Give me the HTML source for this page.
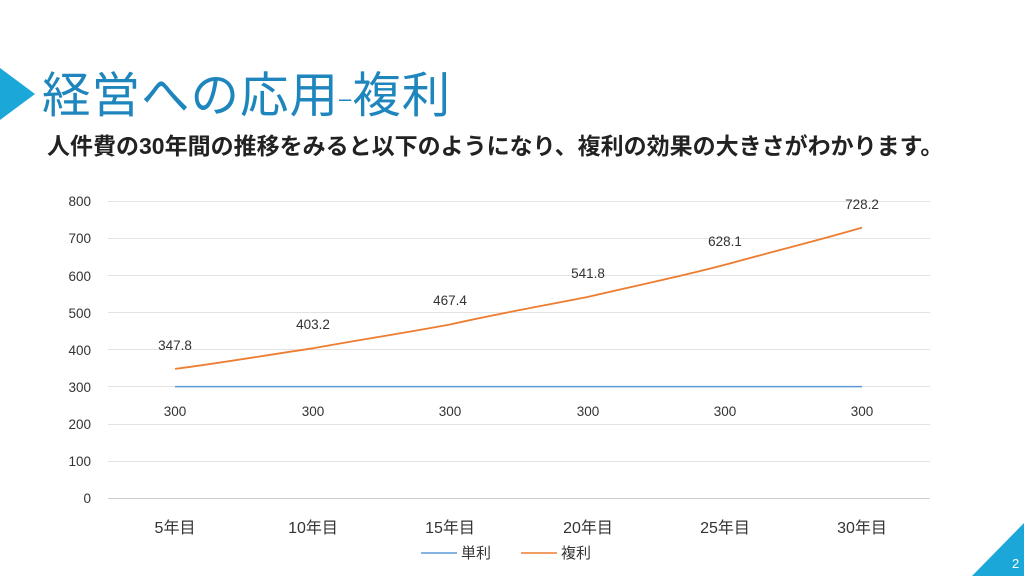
<!DOCTYPE html>
<html><head><meta charset="utf-8"><style>
body{margin:0;width:1024px;height:576px;overflow:hidden;background:#fff;font-family:"Liberation Sans","Noto Sans CJK JP",sans-serif;position:relative}
.t{position:absolute;left:42px;top:56px;font-size:48.5px;color:#1e86bd;white-space:nowrap;letter-spacing:1px}
.s{position:absolute;left:47px;top:127px;font-size:23px;font-weight:bold;color:#222;white-space:nowrap}
</style></head><body>
<svg width="1024" height="576" style="position:absolute;left:0;top:0">
<polygon points="0,68 35,94 0,120" fill="#1ba8d8"/>
<polygon points="972,576 1024,523 1024,576" fill="#1ba8d8"/>
<text x="1012" y="568" font-size="13" fill="#fff" font-family="Liberation Sans">2</text>
<g stroke="#e3e3e3" stroke-width="1">
<line x1="108" x2="930" y1="201.5" y2="201.5"/><line x1="108" x2="930" y1="238.5" y2="238.5"/>
<line x1="108" x2="930" y1="275.5" y2="275.5"/><line x1="108" x2="930" y1="312.5" y2="312.5"/>
<line x1="108" x2="930" y1="349.5" y2="349.5"/><line x1="108" x2="930" y1="386.5" y2="386.5"/>
<line x1="108" x2="930" y1="424.5" y2="424.5"/><line x1="108" x2="930" y1="461.5" y2="461.5"/>
</g>
<line x1="108" x2="930" y1="498.5" y2="498.5" stroke="#cfcfcf"/>
<g font-size="13.5" fill="#333" text-anchor="end" font-family="Liberation Sans">
<text x="91" y="206">800</text><text x="91" y="243">700</text><text x="91" y="281">600</text><text x="91" y="318">500</text><text x="91" y="355">400</text><text x="91" y="392">300</text><text x="91" y="429">200</text><text x="91" y="466">100</text><text x="91" y="503">0</text>
</g>
<line x1="175" x2="862" y1="386.6" y2="386.6" stroke="#5b9bd5" stroke-width="1.5"/>
<path d="M175,368.9 C221,363 267,355 313,348.3 C359,340 404,333 450,324.5 C496,314 542,306 588,296.9 C634,286 679,277 725,264.8 C771,252 816,241 862,227.6" fill="none" stroke="#ed7d31" stroke-width="1.8"/>
<g font-size="13.5" fill="#333" text-anchor="middle" font-family="Liberation Sans">
<text x="175" y="350">347.8</text><text x="313" y="329">403.2</text><text x="450" y="305">467.4</text><text x="588" y="278">541.8</text><text x="725" y="246">628.1</text><text x="862" y="209">728.2</text>
<text x="175" y="416">300</text><text x="313" y="416">300</text><text x="450" y="416">300</text><text x="588" y="416">300</text><text x="725" y="416">300</text><text x="862" y="416">300</text>
</g>
<g font-size="16" fill="#333" text-anchor="middle" font-family="Liberation Sans,Noto Sans CJK JP,sans-serif">
<text x="175" y="533">5年目</text><text x="313" y="533">10年目</text><text x="450" y="533">15年目</text><text x="588" y="533">20年目</text><text x="725" y="533">25年目</text><text x="862" y="533">30年目</text>
</g>
<line x1="421" x2="457" y1="553" y2="553" stroke="#5b9bd5" stroke-width="1.5"/>
<line x1="521" x2="557" y1="553" y2="553" stroke="#ed7d31" stroke-width="1.5"/>
<g font-size="15" fill="#333" font-family="Liberation Sans,Noto Sans CJK JP,sans-serif">
<text x="461" y="558">単利</text><text x="561" y="558">複利</text>
</g>
</svg>
<div class="t">経営への応用<span style="font-size:22px;position:relative;top:-6px">–</span>複利</div>
<div class="s">人件費の30年間の推移をみると以下のようになり、複利の効果の大きさがわかります。</div>
</body></html>
